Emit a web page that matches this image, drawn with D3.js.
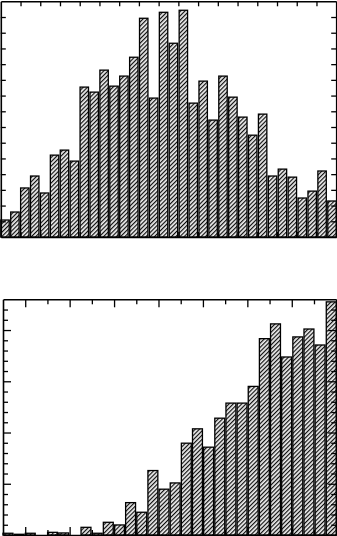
<!DOCTYPE html>
<html><head><meta charset="utf-8">
<script src="https://cdn.jsdelivr.net/npm/d3@7"></script>
<style>html,body{margin:0;padding:0;background:#fff}svg{display:block}</style>
</head><body>
<script>
// Top panel: 34 bins
const topCategories = ["1","2","3","4","5","6","7","8","9","10","11","12","13","14","15","16","17","18","19","20","21","22","23","24","25","26","27","28","29","30","31","32","33","34"];
const topValues = [1.08,1.59,3.12,3.88,2.80,5.21,5.53,4.83,9.54,9.22,10.62,9.60,10.24,11.44,13.92,8.84,14.30,12.33,14.43,8.52,9.92,7.44,10.24,8.90,7.63,6.48,7.82,3.88,4.32,3.81,2.48,2.92,4.20,2.29];
const topYTicks = [1,2,3,4,5,6,7,8,9,10,11,12,13,14];
const topXTicks = [2,4,6,8,10,12,14,16,18,20,22,24,26,28,30,32];

// Bottom panel: 30 bins
const bottomCategories = ["1","2","3","4","5","6","7","8","9","10","11","12","13","14","15","16","17","18","19","20","21","22","23","24","25","26","27","28","29","30"];
const bottomValues = [0.17,0.07,0.17,0,0.26,0.2,0,0.75,0.17,1.24,0.98,3.16,2.22,6.29,4.47,5.08,8.96,10.36,8.57,11.4,12.87,12.87,14.5,19.16,20.6,17.37,19.33,20.1,18.54,22.75];
const bottomYTicks = [1,2,3,4,5,6,7,8,9,10,11,12,13,14,15,16,17,18,19,20,21,22];
const bottomYMajor = [5,10,15,20];
const bottomXTicks = [2,4,6,8,10,12,14,16,18,20,22,24,26,28];
const bottomXMajor = [2,6,10,14,18,22,26];

const W = 337, H = 536;
const svg = d3.select("body").append("svg").attr("width", W).attr("height", H);

const defs = svg.append("defs");
const pat = defs.append("pattern").attr("id","hatch")
  .attr("patternUnits","userSpaceOnUse").attr("width",3).attr("height",3)
  .attr("patternTransform","rotate(45)");
pat.append("rect").attr("width",3).attr("height",3).attr("fill","#ececec");
pat.append("line").attr("x1",0.6).attr("y1",0).attr("x2",0.6).attr("y2",3)
  .attr("stroke","#000").attr("stroke-width",1.1);

function panel(cfg){
  const g = svg.append("g");
  const x = d3.scaleBand().domain(cfg.categories).range([cfg.x0, cfg.x1]).paddingInner(cfg.pad).paddingOuter(0);
  const xl = d3.scaleLinear().domain([0, cfg.categories.length]).range([cfg.x0, cfg.x1]);
  const y = d3.scaleLinear().domain([0, cfg.ymax]).range([cfg.y1, cfg.y0]);

  g.selectAll("rect.bar").data(cfg.values).join("rect").attr("class","bar")
    .attr("x", (d,i)=>x(cfg.categories[i]))
    .attr("width", x.bandwidth())
    .attr("y", d=>y(d))
    .attr("height", d=>Math.max(0, y(0)-y(d)))
    .attr("fill","url(#hatch)")
    .attr("stroke","#000").attr("stroke-width",1.3);

  const tl = d => (cfg.major && cfg.major.includes(d)) ? 8 : 5;
  const txl = d => (cfg.xmajor && cfg.xmajor.includes(d)) ? 8 : 5;

  // axes: ticks inward
  const axL = d3.axisLeft(y).tickValues(cfg.yticks).tickFormat("").tickSizeOuter(0);
  const gl = g.append("g").attr("transform",`translate(${cfg.x0},0)`).call(axL);
  gl.selectAll(".tick line").attr("x2", d=>tl(d));
  const gr = g.append("g").attr("transform",`translate(${cfg.x1},0)`).call(d3.axisRight(y).tickValues(cfg.yticks).tickFormat("").tickSizeOuter(0));
  gr.selectAll(".tick line").attr("x2", d=>-tl(d));
  const gb = g.append("g").attr("transform",`translate(0,${cfg.y1})`).call(d3.axisBottom(xl).tickValues(cfg.xticks).tickFormat("").tickSizeOuter(0));
  gb.selectAll(".tick line").attr("y2", d=>-txl(d));
  const gt = g.append("g").attr("transform",`translate(0,${cfg.y0})`).call(d3.axisTop(xl).tickValues(cfg.xticks).tickFormat("").tickSizeOuter(0));
  gt.selectAll(".tick line").attr("y2", d=>txl(d));
  g.selectAll(".domain").attr("stroke","#000").attr("stroke-width",1.6);
  g.selectAll(".tick line").attr("stroke","#000").attr("stroke-width",1.3);
}

panel({categories: topCategories, values: topValues, x0: 0.8, x1: 336.2, y0: 1.3, y1: 237, ymax: 15,
  pad: 0.15, yticks: topYTicks, xticks: topXTicks});
panel({categories: bottomCategories, values: bottomValues, x0: 3, x1: 336.2, y0: 299.3, y1: 535, ymax: 23,
  pad: 0.11, yticks: bottomYTicks, xticks: bottomXTicks, major: bottomYMajor, xmajor: bottomXMajor});
</script>
</body></html>
